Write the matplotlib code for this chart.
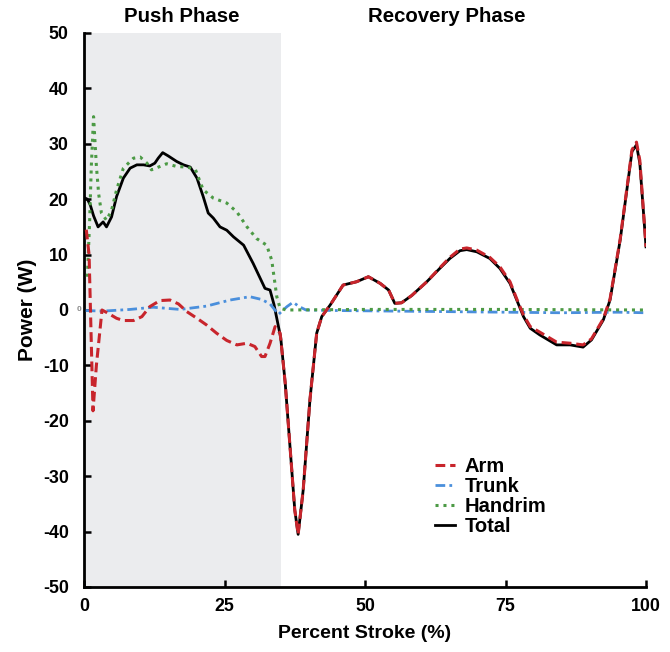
import numpy as np
import matplotlib
matplotlib.use('Agg')
import matplotlib.pyplot as plt

plt.rcParams['font.family'] = ['Liberation Sans', 'DejaVu Sans']
plt.rcParams['font.weight'] = 'bold'
plt.rcParams['axes.unicode_minus'] = False

# total power (W) vs percent stroke
total_x = [0.2, 0.6, 1.1, 1.7, 2.5, 3.4, 4.0, 4.9, 5.8, 7.0, 8.2, 9.4, 10.6, 11.7, 12.6,
           13.2, 14.0, 15.0, 16.5, 17.7, 18.9, 20.1, 21.2, 22.1, 23.0, 24.2, 25.4, 26.6,
           28.4, 30.1, 32.2, 33.1, 33.8, 34.4, 35.0, 35.8, 36.7, 37.5, 38.1, 39.0, 40.2,
           41.4, 42.3, 43.8, 46.1, 48.5, 50.6, 52.7, 54.2, 55.3, 56.5, 58.3, 61.0, 63.3,
           65.1, 66.9, 68.1, 69.9, 72.2, 74.0, 75.8, 77.0, 78.2, 79.4, 81.1, 84.1, 86.5,
           88.8, 90.3, 92.4, 93.6, 95.4, 97.5, 98.3, 98.9, 100.0]
total_y = [20.2, 20.0, 19.0, 17.0, 15.0, 15.9, 15.0, 16.8, 20.5, 23.8, 25.6, 26.2, 26.2, 26.0,
           26.5, 27.4, 28.4, 27.8, 26.8, 26.2, 25.8, 23.8, 20.5, 17.5, 16.6, 15.0, 14.4, 13.2,
           11.7, 8.4, 3.9, 3.6, 1.0, -2.0, -5.0, -13.2, -25.3, -36.1, -40.5, -32.5, -16.2,
           -4.2, -1.2, 0.9, 4.5, 5.1, 6.0, 4.8, 3.6, 1.2, 1.3, 2.6, 5.1, 7.5,
           9.3, 10.7, 10.9, 10.5, 9.3, 7.5, 4.8, 1.8, -1.2, -3.3, -4.5, -6.3, -6.3,
           -6.7, -5.4, -1.8, 1.8, 12.6, 28.6, 29.8, 26.5, 11.4]

# arm power
arm_x = [0.4, 0.9, 1.6, 2.2, 3.2, 4.3, 5.8, 7.0, 8.8, 10.3, 11.7, 13.5, 15.3, 16.8, 18.3,
         20.1, 21.8, 23.6, 25.4, 27.2, 29.0, 30.4, 31.6, 32.2, 33.1, 34.0, 34.9, 35.8,
         36.7, 37.5, 38.1, 39.0, 40.2, 41.4, 42.3, 43.8, 46.1, 48.5, 50.6, 52.7, 54.2,
         55.3, 56.5, 58.3, 61.0, 63.3, 65.1, 66.9, 68.1, 69.9, 72.2, 74.0, 75.8, 77.0,
         78.2, 79.4, 81.1, 84.1, 86.5, 88.8, 90.3, 92.4, 93.6, 95.4, 97.5, 98.3, 98.9, 100.0]
arm_y = [14.5, 10.0, -18.2, -10.0, 0.0, -0.6, -1.5, -1.9, -1.9, -1.2, 0.6, 1.7, 1.8, 1.1, -0.3,
         -1.5, -2.7, -4.2, -5.5, -6.3, -6.0, -6.6, -8.4, -8.4, -6.0, -3.0, -4.2, -13.2,
         -25.3, -36.1, -40.5, -32.5, -16.2, -4.2, -1.2, 0.9, 4.5, 5.1, 6.0, 4.8, 3.6,
         1.2, 1.3, 2.6, 5.1, 7.6, 9.5, 11.0, 11.2, 10.8, 9.5, 7.8, 5.1, 2.0,
         -0.9, -3.0, -4.0, -5.8, -6.0, -6.3, -5.2, -1.6, 2.0, 12.8, 28.9, 30.3, 27.0, 11.4]

# trunk power
trunk_x = [0.3, 3.4, 8.2, 12.3, 17.1, 21.8, 26.0, 29.5, 31.6, 33.1, 34.6, 36.1, 37.2,
           38.3, 39.5, 45.0, 55.0, 65.0, 75.0, 85.0, 95.0, 100.0]
trunk_y = [-0.1, -0.2, 0.1, 0.5, 0.1, 0.7, 1.8, 2.4, 1.9, 1.1, -0.8, 0.6, 1.4,
           0.6, 0.0, -0.1, -0.2, -0.3, -0.4, -0.5, -0.4, -0.5]

# handrim power
hand_x = [0.6, 1.0, 1.3, 1.7, 2.2, 2.6, 3.1, 4.0, 4.9, 5.8, 7.0, 8.8, 10.0, 11.2, 12.0,
          13.5, 14.7, 16.5, 18.3, 19.8, 21.2, 23.0, 25.4, 27.2, 29.0, 30.7, 32.5, 33.4,
          34.3, 34.9, 36.0, 50.0, 75.0, 100.0]
hand_y = [6.0, 16.0, 26.0, 34.9, 26.0, 21.0, 17.5, 16.2, 18.0, 21.7, 25.6, 27.4, 27.6, 26.5,
          25.3, 25.9, 26.4, 25.9, 25.8, 25.4, 21.7, 20.2, 19.3, 17.7, 15.0, 12.9, 11.7, 9.0,
          2.4, 0.3, 0.0, 0.1, 0.1, 0.0]

push_end = 35.1
xticks = [0, 25, 50, 75, 100]
yticks = [-50, -40, -30, -20, -10, 0, 10, 20, 30, 40, 50]

fig = plt.figure(figsize=(6.7, 6.52), dpi=100)
ax = fig.add_axes([0.1254, 0.0997, 0.8388, 0.8497])

ax.axvspan(0, push_end, color='#ebecee', lw=0, zorder=0)

ax.plot(arm_x, arm_y, color='#c8252c', ls=(0, (3.2, 1.6)), lw=2.2, label='Arm', zorder=4)
ax.plot(trunk_x, trunk_y, color='#4a8fdc', ls=(0, (3.5, 1.5, 1, 1.5)), lw=2.0, label='Trunk', zorder=3)
ax.plot(hand_x, hand_y, color='#4c9a45', ls=(0, (1, 1.6)), lw=2.2, label='Handrim', zorder=3)
ax.plot(total_x, total_y, color='black', lw=2.0, label='Total', zorder=2)

ax.set_xlim(0, 100)
ax.set_ylim(-50, 50)
ax.set_xticks(xticks)
ax.set_yticks(yticks)
ax.tick_params(direction='in', length=5, width=1.8, labelsize=12.8)
ax.tick_params(axis='y', pad=11)
ax.tick_params(axis='x', pad=8)
for s in ['top', 'right']:
    ax.spines[s].set_visible(False)
for s in ['left', 'bottom']:
    ax.spines[s].set_linewidth(2)

ax.set_ylabel('Power (W)', fontsize=15, fontweight='bold', labelpad=4)
ax.set_xlabel('Percent Stroke (%)', fontsize=14, fontweight='bold', labelpad=7)

ax.text(17.4, 53.0, 'Push Phase', ha='center', va='center', fontsize=14.7, fontweight='bold', clip_on=False)
ax.text(64.6, 53.0, 'Recovery Phase', ha='center', va='center', fontsize=14.7, fontweight='bold', clip_on=False)
ax.text(-0.4, 0, '0', ha='right', va='center', fontsize=6, color='#888888', clip_on=False)

ax.legend(loc='upper left', bbox_to_anchor=(0.625, 0.235), frameon=False, fontsize=14.5,
          handlelength=1.0, handletextpad=0.45, labelspacing=0.05, borderpad=0, borderaxespad=0)

fig.savefig('out.png', dpi=100)
